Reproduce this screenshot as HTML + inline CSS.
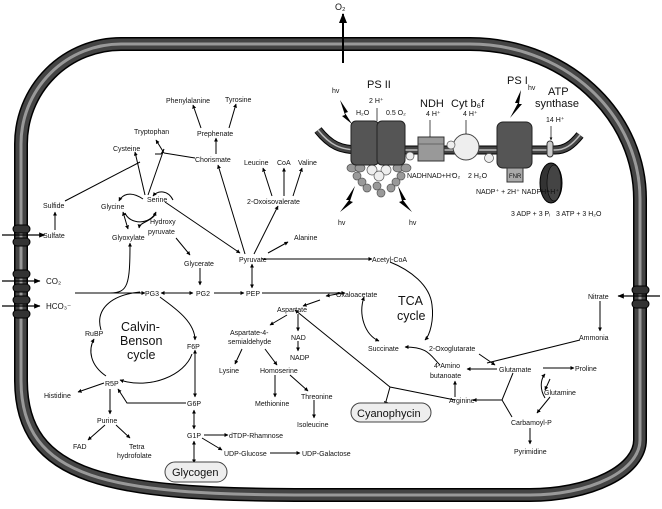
<!DOCTYPE html><html><head><meta charset="utf-8"><style>
html,body{margin:0;padding:0;background:#fff}
svg{display:block}
text{font-family:"Liberation Sans","DejaVu Sans",sans-serif;font-size:7px;fill:#111}
.b{font-size:11px}
.c{font-size:12.5px}
</style></head><body>
<svg width="662" height="509" viewBox="0 0 662 509" xmlns="http://www.w3.org/2000/svg">
<defs>
<marker id="a" viewBox="0 0 10 10" refX="9" refY="5" markerWidth="5" markerHeight="5" orient="auto-start-reverse"><path d="M0,1 L10,5 L0,9 z" fill="#000"/></marker>
<marker id="A" viewBox="0 0 10 10" refX="9" refY="5" markerWidth="4" markerHeight="4" orient="auto-start-reverse"><path d="M0,0 L10,5 L0,10 z" fill="#000"/></marker>
</defs>
<!-- cell membrane -->
<g fill="none">
<path d="M121,44 L470,44 A170,155 0 0 1 640,199 L640,440 A110,55 0 0 1 530,495 L310,495 C110,495 21,480 21,380 L21,144 A100,100 0 0 1 121,44 Z" stroke="#000" stroke-width="14"/>
<path d="M121,44 L470,44 A170,155 0 0 1 640,199 L640,440 A110,55 0 0 1 530,495 L310,495 C110,495 21,480 21,380 L21,144 A100,100 0 0 1 121,44 Z" stroke="#444" stroke-width="11"/>
<path d="M121,44 L470,44 A170,155 0 0 1 640,199 L640,440 A110,55 0 0 1 530,495 L310,495 C110,495 21,480 21,380 L21,144 A100,100 0 0 1 121,44 Z" stroke="#999" stroke-width="3"/>
</g>
<!-- transporters -->
<g fill="#333" stroke="#000" stroke-width="1">
<rect x="13" y="225" width="17" height="8" rx="4"/><rect x="13" y="238" width="17" height="8" rx="4"/>
<rect x="13" y="270" width="17" height="8" rx="4"/><rect x="13" y="284" width="17" height="8" rx="4"/>
<rect x="13" y="296" width="17" height="8" rx="4"/><rect x="13" y="310" width="17" height="8" rx="4"/>
<rect x="632" y="286" width="17" height="8" rx="4"/><rect x="632" y="300" width="17" height="8" rx="4"/>
</g>
<g stroke="#000" stroke-width="1.3" fill="none" marker-end="url(#a)">
<path d="M2,235 L45,235"/><path d="M2,281 L40,281"/><path d="M2,306 L40,306"/><path d="M660,296 L618,296"/>
<path d="M343,63 L343,14" stroke-width="2"/>
</g>
<text x="335" y="10" style="font-size:9px">O₂</text>
<!-- thylakoid -->
<g fill="none">
<path d="M318,130 C330,145 340,150 360,150 L555,150 C565,150 572,145 580,135" stroke="#000" stroke-width="9"/>
<path d="M318,130 C330,145 340,150 360,150 L555,150 C565,150 572,145 580,135" stroke="#444" stroke-width="7"/>
<path d="M318,130 C330,145 340,150 360,150 L555,150 C565,150 572,145 580,135" stroke="#bbb" stroke-width="1.5"/>
</g>
<!-- antenna -->
<g fill="#999" stroke="#555" stroke-width="0.7">
<ellipse cx="352" cy="168" rx="5" ry="4"/><ellipse cx="360" cy="168" rx="5" ry="4"/><ellipse cx="398" cy="168" rx="5" ry="4"/><ellipse cx="406" cy="168" rx="5" ry="4"/>
<ellipse cx="357" cy="176" rx="4" ry="4"/><ellipse cx="362" cy="182" rx="4" ry="4"/><ellipse cx="367" cy="188" rx="4" ry="4"/>
<ellipse cx="401" cy="176" rx="4" ry="4"/><ellipse cx="396" cy="182" rx="4" ry="4"/><ellipse cx="391" cy="188" rx="4" ry="4"/>
<ellipse cx="377" cy="186" rx="4" ry="4"/><ellipse cx="381" cy="193" rx="4" ry="4"/>
</g>
<g fill="#eee" stroke="#555" stroke-width="0.7"><circle cx="372" cy="170" r="5"/><circle cx="386" cy="170" r="5"/><circle cx="379" cy="176" r="5"/></g>
<g fill="#555" stroke="#222" stroke-width="1">
<rect x="351" y="121" width="28" height="44" rx="5"/><rect x="377" y="121" width="28" height="44" rx="5"/>
<rect x="497" y="122" width="35" height="46" rx="6"/>
</g>
<rect x="418" y="137" width="26" height="24" fill="#999" stroke="#333"/>
<line x1="418" y1="144" x2="444" y2="144" stroke="#333" stroke-width=".6"/>
<circle cx="466" cy="147" r="13" fill="#eee" stroke="#444"/>
<g fill="#eee" stroke="#555" stroke-width=".7"><circle cx="410" cy="156" r="4"/><circle cx="451" cy="145" r="4"/><circle cx="489" cy="158" r="4.5"/></g>
<rect x="507" y="168" width="16" height="14" fill="#aaa" stroke="#333"/>
<text x="509" y="178" style="font-size:6px">FNR</text>
<rect x="547" y="141" width="6" height="16" rx="3" fill="#ccc" stroke="#333"/>
<ellipse cx="551" cy="183" rx="11" ry="20" fill="#333" stroke="#000"/>
<ellipse cx="554" cy="183" rx="7" ry="18" fill="#444" stroke="#000" stroke-width=".6"/>
<g fill="#000">
<path d="M340,100 L348,112 L345,113 L352,124 L342,116 L345,115 Z"/>
<path d="M355,186 L346,200 L349,200 L340,212 L353,202 L350,201 Z"/>
<path d="M398,186 L406,200 L403,200 L412,212 L399,202 L402,201 Z"/>
<path d="M521,90 L515,103 L518,103 L510,118 L522,104 L519,104 Z"/>
</g>
<g style="font-size:5.5px">
<text x="332" y="93">hv</text><text x="338" y="225">hv</text><text x="409" y="225">hv</text><text x="528" y="90">hv</text>
<text x="369" y="103">2 H⁺</text><text x="356" y="115">H₂O</text><text x="386" y="115">0.5 O₂</text>
<text x="426" y="116">4 H⁺</text><text x="463" y="116">4 H⁺</text><text x="546" y="122">14 H⁺</text>
<text x="407" y="178">NADH</text><text x="427" y="178">NAD+H⁺</text><text x="452" y="178">O₂</text><text x="468" y="178">2 H₂O</text>
<text x="476" y="194">NADP⁺ + 2H⁺ NADPH+H⁺</text>
<text x="511" y="216">3 ADP + 3 Pᵢ</text><text x="556" y="216">3 ATP + 3 H₂O</text>
</g>
<g class="b"><text x="367" y="88" class="b">PS II</text><text x="420" y="107" class="b">NDH</text><text x="451" y="107" class="b">Cyt b₆f</text><text x="507" y="84" class="b">PS I</text><text x="548" y="95" class="b">ATP</text><text x="535" y="107" class="b">synthase</text></g>
<g stroke="#000" stroke-width=".7" fill="none">
<line x1="377" y1="121" x2="377" y2="108"/><line x1="430" y1="137" x2="430" y2="120"/><line x1="466" y1="134" x2="466" y2="120"/><line x1="551" y1="126" x2="551" y2="140" marker-end="url(#A)"/>
</g>
<g stroke="#000" stroke-width="1" fill="none" marker-end="url(#A)">
<path d="M201,128 L193,105"/><path d="M229,128 L236,104"/><path d="M216,154 L216,138"/>
<path d="M245,254 L218,165"/><path d="M272,196 L263,168"/><path d="M284,196 L284,168"/><path d="M293,196 L302,168"/>
<path d="M254,254 L278,206"/><path d="M268,253 L288,242"/>
<path d="M165,202 L240,253"/><path d="M176,238 L190,255"/><path d="M200,268 L200,285"/>
<path d="M55,230 L55,212"/>
<path d="M145,195 L135,152"/><path d="M148,195 L164,149 L161,154 L155,154" marker-end="none"/>
<path d="M164,153 L156,140"/><path d="M164,153 L195,158" marker-end="none"/>
<path d="M65,201 L140,162" marker-end="none"/>
<path d="M123,212 L128,229" marker-start="url(#A)"/>
<path d="M75,293 L145,293"/><path d="M110,293 C128,293 130,285 130,243"/>
<path d="M161,293 L193,293" marker-start="url(#A)"/><path d="M214,293 L244,293"/>
<path d="M262,293 L345,293"/><path d="M252,264 L252,288" marker-start="url(#A)"/>
<path d="M262,259 L372,259"/>
<path d="M326,296 L343,293 M320,300 L303,306" marker-start="url(#A)"/>
<path d="M287,315 L270,325"/><path d="M298,314 L298,331"/><path d="M298,341 L298,351"/>
<path d="M242,349 L235,364"/><path d="M265,349 L277,365"/><path d="M275,375 L275,397"/><path d="M290,375 L308,391"/><path d="M314,400 L314,418"/>
<path d="M160,297 C170,305 195,320 195,340"/>
<path d="M195,350 L195,397" marker-start="url(#A)"/>
<path d="M186,403 L127,403 L118,389"/><path d="M194,410 L194,429" marker-start="url(#A)"/>
<path d="M194,441 L194,463" marker-start="url(#A)"/>
<path d="M204,435 L228,435"/><path d="M202,438 L222,450"/><path d="M270,453 L300,453"/>
<path d="M104,383 L78,392"/><path d="M110,389 L110,414"/><path d="M105,425 L88,440"/><path d="M116,425 L130,438"/>
<path d="M192,354 C185,375 150,390 120,380"/>
<path d="M101,330 C95,310 110,295 140,292" marker-end="none"/>
<path d="M106,376 C90,365 88,350 94,339"/>
<path d="M390,262 C410,270 430,285 432,305 C434,320 430,335 425,340"/>
<path d="M364,297 C358,315 365,335 379,341" marker-start="url(#A)"/>
<path d="M440,365 C430,355 428,347 405,347"/>
<path d="M479,354 L495,365"/><path d="M487,363 L580,340" marker-end="none"/>
<path d="M600,301 L600,331"/>
<path d="M497,369 L467,369"/><path d="M543,368 L574,368"/>
<path d="M455,397 L455,381"/>
<path d="M502,400 L473,400"/>
<path d="M513,373 L502,400 L512,417" marker-end="none"/>
<path d="M550,379 L545,390"/>
<path d="M545,398 C540,390 540,380 545,374"/>
<path d="M550,397 L537,413"/><path d="M530,428 L530,444"/>
<path d="M455,400 L390,387 L295,310"/><path d="M390,387 L385,405"/>
<path d="M173,200 C168,190 158,190 153,196"/>
<path d="M143,199 C130,190 122,195 119,201"/>
<path d="M125,213 C130,225 150,225 156,212"/>
<path d="M155,215 C150,222 140,222 139,228"/>
</g>
<g>
<text x="166" y="103">Phenylalanine</text><text x="225" y="102">Tyrosine</text>
<text x="134" y="134">Tryptophan</text><text x="197" y="136">Prephenate</text>
<text x="113" y="151">Cysteine</text><text x="195" y="162">Chorismate</text>
<text x="244" y="165">Leucine</text><text x="277" y="165">CoA</text><text x="298" y="165">Valine</text>
<text x="147" y="202">Serine</text><text x="101" y="209">Glycine</text><text x="43" y="208">Sulfide</text>
<text x="247" y="204">2-Oxoisovalerate</text>
<text x="150" y="224">Hydroxy</text><text x="148" y="234">pyruvate</text>
<text x="43" y="238">Sulfate</text><text x="112" y="240">Glyoxylate</text>
<text x="294" y="240">Alanine</text><text x="184" y="266">Glycerate</text><text x="239" y="262">Pyruvate</text>
<text x="46" y="284" style="font-size:8px">CO₂</text><text x="46" y="309" style="font-size:8px">HCO₃⁻</text>
<text x="145" y="296">PG3</text><text x="196" y="296">PG2</text><text x="246" y="296">PEP</text>
<text x="336" y="297">Oxaloacetate</text><text x="372" y="262">Acetyl-CoA</text>
<text x="277" y="312">Aspartate</text>
<text x="398" y="305" class="c">TCA</text><text x="397" y="320" class="c">cycle</text>
<text x="588" y="299">Nitrate</text><text x="579" y="340">Ammonia</text>
<text x="121" y="331" class="c">Calvin-</text><text x="120" y="345" class="c">Benson</text><text x="127" y="359" class="c">cycle</text>
<text x="85" y="336">RuBP</text>
<text x="230" y="335">Aspartate-4-</text><text x="228" y="344">semialdehyde</text>
<text x="291" y="340">NAD</text><text x="290" y="360">NADP</text><text x="187" y="349">F6P</text>
<text x="219" y="373">Lysine</text><text x="260" y="373">Homoserine</text>
<text x="368" y="351">Succinate</text><text x="429" y="351">2-Oxoglutarate</text>
<text x="434" y="368">4-Amino</text><text x="430" y="378">butanoate</text>
<text x="499" y="372">Glutamate</text><text x="575" y="371">Proline</text>
<text x="105" y="386">R5P</text><text x="44" y="398">Histidine</text>
<text x="255" y="406">Methionine</text><text x="301" y="399">Threonine</text>
<text x="544" y="395">Glutamine</text><text x="449" y="403">Arginine</text>
<text x="187" y="406">G6P</text><text x="97" y="423">Purine</text>
<text x="297" y="427">Isoleucine</text><text x="511" y="425">Carbamoyl-P</text>
<text x="187" y="438">G1P</text><text x="229" y="438">dTDP-Rhamnose</text>
<text x="73" y="449">FAD</text><text x="129" y="449">Tetra</text><text x="117" y="458">hydrofolate</text>
<text x="224" y="456">UDP-Glucose</text><text x="302" y="456">UDP-Galactose</text>
<text x="514" y="454">Pyrimidine</text>
</g>
<rect x="165" y="462" width="62" height="20" rx="10" fill="#eee" stroke="#444"/>
<text x="172" y="476" style="font-size:11px">Glycogen</text>
<rect x="351" y="403" width="80" height="19" rx="9.5" fill="#eee" stroke="#444"/>
<text x="357" y="417" style="font-size:11px">Cyanophycin</text>
</svg>
</body></html>
